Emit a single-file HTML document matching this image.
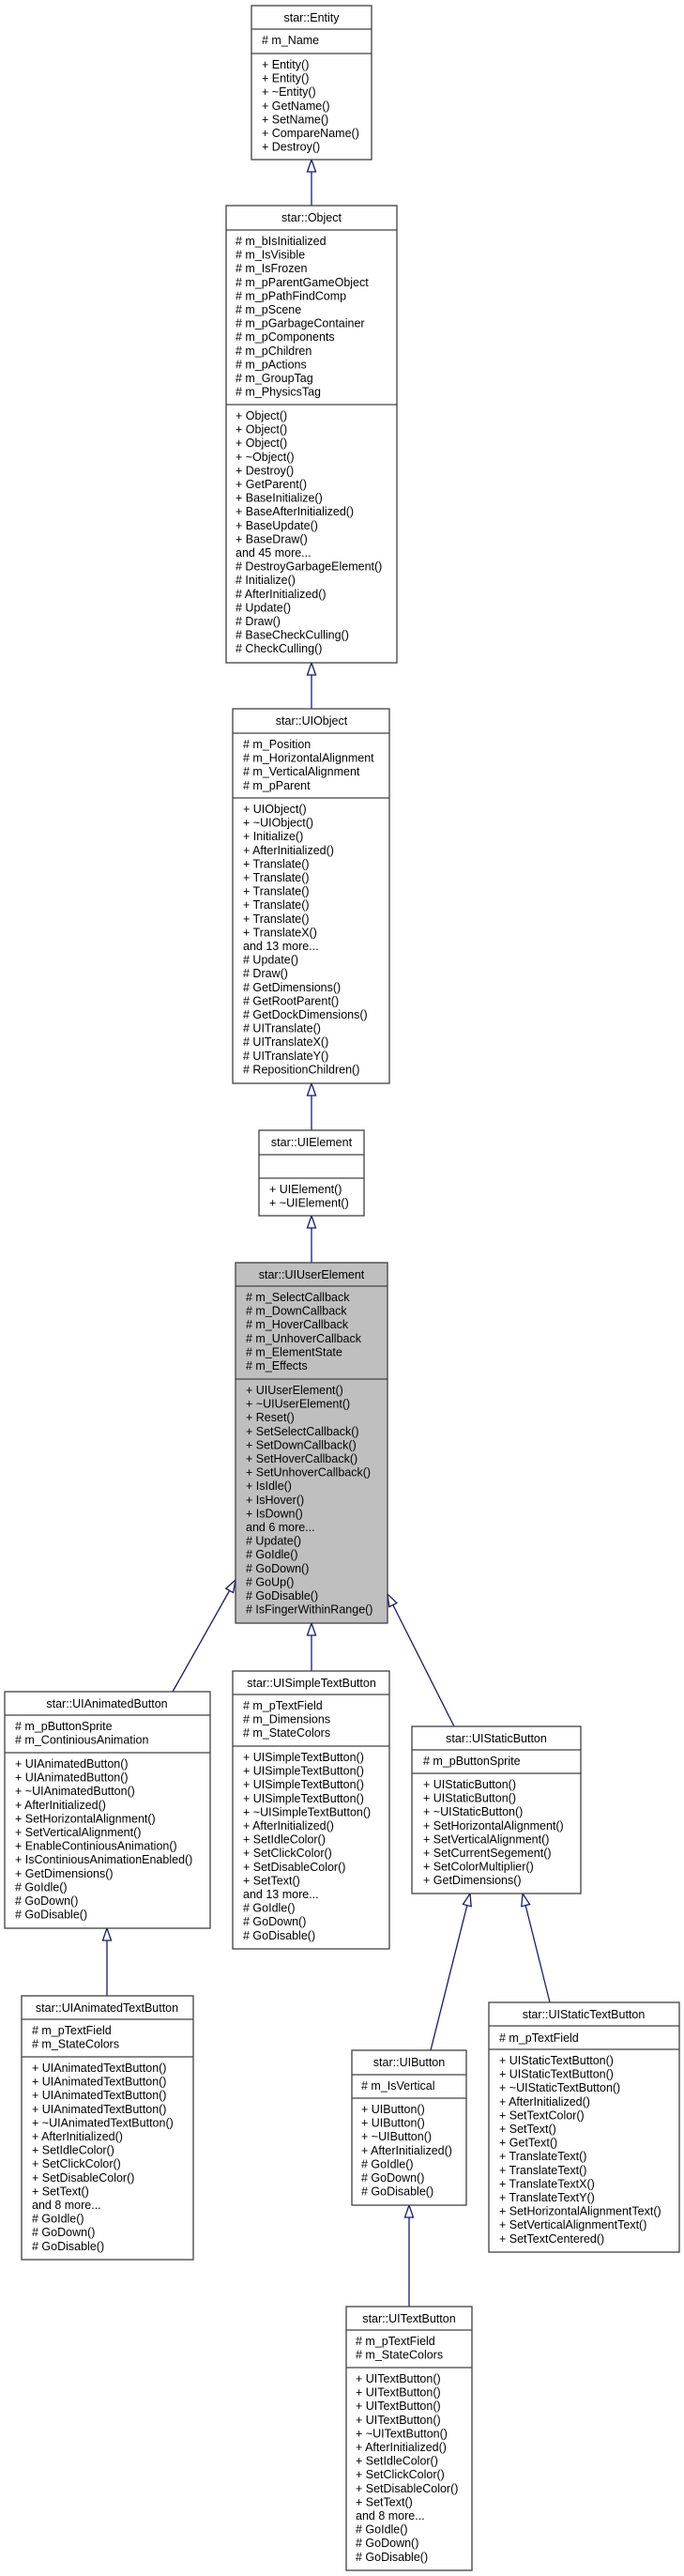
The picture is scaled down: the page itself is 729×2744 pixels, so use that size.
<!DOCTYPE html>
<html><head><meta charset="utf-8">
<style>
html,body{margin:0;padding:0;background:#fff;}
svg{display:block;}
text{font-family:"Liberation Sans",Arial,sans-serif;font-size:12.5px;fill:#000;}
.b{fill:#fff;stroke:#404040;stroke-width:1.3;}
.g{fill:#bfbfbf;stroke:#404040;stroke-width:1.3;}
.s{stroke:#404040;stroke-width:1.3;}
.e{stroke:#191970;stroke-width:1.3;fill:none;}
</style></head><body>
<svg width="729" height="2744" viewBox="0 0 729 2744" xmlns="http://www.w3.org/2000/svg">
<defs>
<marker id="a" viewBox="-1 -1 15 11" refX="13" refY="4.5" markerWidth="15" markerHeight="11" markerUnits="userSpaceOnUse" orient="auto">
<path d="M0,0 L13,4.5 L0,9 z" fill="#fff" stroke="#191970" stroke-width="1.3"/>
</marker>
</defs>

<!-- edges -->
<line class="e" x1="332" y1="219" x2="332" y2="170" marker-end="url(#a)"/>
<line class="e" x1="332" y1="755" x2="332" y2="706" marker-end="url(#a)"/>
<line class="e" x1="332" y1="1204" x2="332" y2="1154" marker-end="url(#a)"/>
<line class="e" x1="332" y1="1345" x2="332" y2="1295" marker-end="url(#a)"/>
<line class="e" x1="332" y1="1780" x2="332" y2="1729" marker-end="url(#a)"/>
<line class="e" x1="184" y1="1802" x2="251" y2="1683" marker-end="url(#a)"/>
<line class="e" x1="484" y1="1839" x2="413" y2="1698" marker-end="url(#a)"/>
<line class="e" x1="114" y1="2126" x2="114" y2="2054" marker-end="url(#a)"/>
<line class="e" x1="459" y1="2184" x2="501" y2="2017" marker-end="url(#a)"/>
<line class="e" x1="586" y1="2133" x2="557" y2="2017" marker-end="url(#a)"/>
<line class="e" x1="436" y1="2457" x2="436" y2="2349" marker-end="url(#a)"/>

<!-- Entity -->
<rect class="b" x="268" y="6" width="128" height="164"/>
<line class="s" x1="268" y1="31" x2="396" y2="31"/><line class="s" x1="268" y1="57" x2="396" y2="57"/>
<text x="332" y="23" text-anchor="middle">star::Entity</text>
<text x="279" y="47">#&#160;m_Name</text>
<text x="279" y="73"><tspan x="279">+ Entity()</tspan><tspan x="279" dy="14.6">+ Entity()</tspan><tspan x="279" dy="14.6">+ ~Entity()</tspan><tspan x="279" dy="14.6">+ GetName()</tspan><tspan x="279" dy="14.6">+ SetName()</tspan><tspan x="279" dy="14.6">+ CompareName()</tspan><tspan x="279" dy="14.6">+ Destroy()</tspan></text>

<!-- Object -->
<rect class="b" x="241" y="219" width="182" height="487"/>
<line class="s" x1="241" y1="245" x2="423" y2="245"/><line class="s" x1="241" y1="431" x2="423" y2="431"/>
<text x="332" y="236" text-anchor="middle">star::Object</text>
<text x="251" y="261"><tspan x="251"># m_bIsInitialized</tspan><tspan x="251" dy="14.6"># m_IsVisible</tspan><tspan x="251" dy="14.6"># m_IsFrozen</tspan><tspan x="251" dy="14.6"># m_pParentGameObject</tspan><tspan x="251" dy="14.6"># m_pPathFindComp</tspan><tspan x="251" dy="14.6"># m_pScene</tspan><tspan x="251" dy="14.6"># m_pGarbageContainer</tspan><tspan x="251" dy="14.6"># m_pComponents</tspan><tspan x="251" dy="14.6"># m_pChildren</tspan><tspan x="251" dy="14.6"># m_pActions</tspan><tspan x="251" dy="14.6"># m_GroupTag</tspan><tspan x="251" dy="14.6"># m_PhysicsTag</tspan></text>
<text x="251" y="447"><tspan x="251">+ Object()</tspan><tspan x="251" dy="14.6">+ Object()</tspan><tspan x="251" dy="14.6">+ Object()</tspan><tspan x="251" dy="14.6">+ ~Object()</tspan><tspan x="251" dy="14.6">+ Destroy()</tspan><tspan x="251" dy="14.6">+ GetParent()</tspan><tspan x="251" dy="14.6">+ BaseInitialize()</tspan><tspan x="251" dy="14.6">+ BaseAfterInitialized()</tspan><tspan x="251" dy="14.6">+ BaseUpdate()</tspan><tspan x="251" dy="14.6">+ BaseDraw()</tspan><tspan x="251" dy="14.6">and 45 more...</tspan><tspan x="251" dy="14.6"># DestroyGarbageElement()</tspan><tspan x="251" dy="14.6"># Initialize()</tspan><tspan x="251" dy="14.6"># AfterInitialized()</tspan><tspan x="251" dy="14.6"># Update()</tspan><tspan x="251" dy="14.6"># Draw()</tspan><tspan x="251" dy="14.6"># BaseCheckCulling()</tspan><tspan x="251" dy="14.6"># CheckCulling()</tspan></text>

<!-- UIObject -->
<rect class="b" x="248" y="755" width="167" height="399"/>
<line class="s" x1="248" y1="781" x2="415" y2="781"/><line class="s" x1="248" y1="850" x2="415" y2="850"/>
<text x="332" y="772" text-anchor="middle">star::UIObject</text>
<text x="259" y="797"><tspan x="259"># m_Position</tspan><tspan x="259" dy="14.6"># m_HorizontalAlignment</tspan><tspan x="259" dy="14.6"># m_VerticalAlignment</tspan><tspan x="259" dy="14.6"># m_pParent</tspan></text>
<text x="259" y="866"><tspan x="259">+ UIObject()</tspan><tspan x="259" dy="14.6">+ ~UIObject()</tspan><tspan x="259" dy="14.6">+ Initialize()</tspan><tspan x="259" dy="14.6">+ AfterInitialized()</tspan><tspan x="259" dy="14.6">+ Translate()</tspan><tspan x="259" dy="14.6">+ Translate()</tspan><tspan x="259" dy="14.6">+ Translate()</tspan><tspan x="259" dy="14.6">+ Translate()</tspan><tspan x="259" dy="14.6">+ Translate()</tspan><tspan x="259" dy="14.6">+ TranslateX()</tspan><tspan x="259" dy="14.6">and 13 more...</tspan><tspan x="259" dy="14.6"># Update()</tspan><tspan x="259" dy="14.6"># Draw()</tspan><tspan x="259" dy="14.6"># GetDimensions()</tspan><tspan x="259" dy="14.6"># GetRootParent()</tspan><tspan x="259" dy="14.6"># GetDockDimensions()</tspan><tspan x="259" dy="14.6"># UITranslate()</tspan><tspan x="259" dy="14.6"># UITranslateX()</tspan><tspan x="259" dy="14.6"># UITranslateY()</tspan><tspan x="259" dy="14.6"># RepositionChildren()</tspan></text>

<!-- UIElement -->
<rect class="b" x="276" y="1204" width="112" height="91"/>
<line class="s" x1="276" y1="1230" x2="388" y2="1230"/><line class="s" x1="276" y1="1255" x2="388" y2="1255"/>
<text x="332" y="1221" text-anchor="middle">star::UIElement</text>
<text x="287" y="1271"><tspan x="287">+ UIElement()</tspan><tspan x="287" dy="14.6">+ ~UIElement()</tspan></text>

<!-- UIUserElement -->
<rect class="g" x="251" y="1345" width="162" height="384"/>
<line class="s" x1="251" y1="1370" x2="413" y2="1370"/><line class="s" x1="251" y1="1469" x2="413" y2="1469"/>
<text x="332" y="1362" text-anchor="middle">star::UIUserElement</text>
<text x="262" y="1386"><tspan x="262"># m_SelectCallback</tspan><tspan x="262" dy="14.6"># m_DownCallback</tspan><tspan x="262" dy="14.6"># m_HoverCallback</tspan><tspan x="262" dy="14.6"># m_UnhoverCallback</tspan><tspan x="262" dy="14.6"># m_ElementState</tspan><tspan x="262" dy="14.6"># m_Effects</tspan></text>
<text x="262" y="1485"><tspan x="262">+ UIUserElement()</tspan><tspan x="262" dy="14.6">+ ~UIUserElement()</tspan><tspan x="262" dy="14.6">+ Reset()</tspan><tspan x="262" dy="14.6">+ SetSelectCallback()</tspan><tspan x="262" dy="14.6">+ SetDownCallback()</tspan><tspan x="262" dy="14.6">+ SetHoverCallback()</tspan><tspan x="262" dy="14.6">+ SetUnhoverCallback()</tspan><tspan x="262" dy="14.6">+ IsIdle()</tspan><tspan x="262" dy="14.6">+ IsHover()</tspan><tspan x="262" dy="14.6">+ IsDown()</tspan><tspan x="262" dy="14.6">and 6 more...</tspan><tspan x="262" dy="14.6"># Update()</tspan><tspan x="262" dy="14.6"># GoIdle()</tspan><tspan x="262" dy="14.6"># GoDown()</tspan><tspan x="262" dy="14.6"># GoUp()</tspan><tspan x="262" dy="14.6"># GoDisable()</tspan><tspan x="262" dy="14.6"># IsFingerWithinRange()</tspan></text>

<!-- UIAnimatedButton -->
<rect class="b" x="5" y="1802" width="219" height="252"/>
<line class="s" x1="5" y1="1827" x2="224" y2="1827"/><line class="s" x1="5" y1="1867" x2="224" y2="1867"/>
<text x="114" y="1819" text-anchor="middle">star::UIAnimatedButton</text>
<text x="16" y="1843"><tspan x="16"># m_pButtonSprite</tspan><tspan x="16" dy="14.6"># m_ContiniousAnimation</tspan></text>
<text x="16" y="1883"><tspan x="16">+ UIAnimatedButton()</tspan><tspan x="16" dy="14.6">+ UIAnimatedButton()</tspan><tspan x="16" dy="14.6">+ ~UIAnimatedButton()</tspan><tspan x="16" dy="14.6">+ AfterInitialized()</tspan><tspan x="16" dy="14.6">+ SetHorizontalAlignment()</tspan><tspan x="16" dy="14.6">+ SetVerticalAlignment()</tspan><tspan x="16" dy="14.6">+ EnableContiniousAnimation()</tspan><tspan x="16" dy="14.6">+ IsContiniousAnimationEnabled()</tspan><tspan x="16" dy="14.6">+ GetDimensions()</tspan><tspan x="16" dy="14.6"># GoIdle()</tspan><tspan x="16" dy="14.6"># GoDown()</tspan><tspan x="16" dy="14.6"># GoDisable()</tspan></text>

<!-- UIAnimatedTextButton -->
<rect class="b" x="23" y="2126" width="183" height="281"/>
<line class="s" x1="23" y1="2151" x2="206" y2="2151"/><line class="s" x1="23" y1="2191" x2="206" y2="2191"/>
<text x="114" y="2143" text-anchor="middle">star::UIAnimatedTextButton</text>
<text x="34" y="2167"><tspan x="34"># m_pTextField</tspan><tspan x="34" dy="14.6"># m_StateColors</tspan></text>
<text x="34" y="2207"><tspan x="34">+ UIAnimatedTextButton()</tspan><tspan x="34" dy="14.6">+ UIAnimatedTextButton()</tspan><tspan x="34" dy="14.6">+ UIAnimatedTextButton()</tspan><tspan x="34" dy="14.6">+ UIAnimatedTextButton()</tspan><tspan x="34" dy="14.6">+ ~UIAnimatedTextButton()</tspan><tspan x="34" dy="14.6">+ AfterInitialized()</tspan><tspan x="34" dy="14.6">+ SetIdleColor()</tspan><tspan x="34" dy="14.6">+ SetClickColor()</tspan><tspan x="34" dy="14.6">+ SetDisableColor()</tspan><tspan x="34" dy="14.6">+ SetText()</tspan><tspan x="34" dy="14.6">and 8 more...</tspan><tspan x="34" dy="14.6"># GoIdle()</tspan><tspan x="34" dy="14.6"># GoDown()</tspan><tspan x="34" dy="14.6"># GoDisable()</tspan></text>

<!-- UISimpleTextButton -->
<rect class="b" x="248" y="1780" width="167" height="296"/>
<line class="s" x1="248" y1="1805" x2="415" y2="1805"/><line class="s" x1="248" y1="1860" x2="415" y2="1860"/>
<text x="332" y="1797" text-anchor="middle">star::UISimpleTextButton</text>
<text x="259" y="1821"><tspan x="259"># m_pTextField</tspan><tspan x="259" dy="14.6"># m_Dimensions</tspan><tspan x="259" dy="14.6"># m_StateColors</tspan></text>
<text x="259" y="1876"><tspan x="259">+ UISimpleTextButton()</tspan><tspan x="259" dy="14.6">+ UISimpleTextButton()</tspan><tspan x="259" dy="14.6">+ UISimpleTextButton()</tspan><tspan x="259" dy="14.6">+ UISimpleTextButton()</tspan><tspan x="259" dy="14.6">+ ~UISimpleTextButton()</tspan><tspan x="259" dy="14.6">+ AfterInitialized()</tspan><tspan x="259" dy="14.6">+ SetIdleColor()</tspan><tspan x="259" dy="14.6">+ SetClickColor()</tspan><tspan x="259" dy="14.6">+ SetDisableColor()</tspan><tspan x="259" dy="14.6">+ SetText()</tspan><tspan x="259" dy="14.6">and 13 more...</tspan><tspan x="259" dy="14.6"># GoIdle()</tspan><tspan x="259" dy="14.6"># GoDown()</tspan><tspan x="259" dy="14.6"># GoDisable()</tspan></text>

<!-- UIStaticButton -->
<rect class="b" x="439" y="1839" width="180" height="178"/>
<line class="s" x1="439" y1="1864" x2="619" y2="1864"/><line class="s" x1="439" y1="1889" x2="619" y2="1889"/>
<text x="529" y="1856" text-anchor="middle">star::UIStaticButton</text>
<text x="451" y="1880"># m_pButtonSprite</text>
<text x="451" y="1905"><tspan x="451">+ UIStaticButton()</tspan><tspan x="451" dy="14.6">+ UIStaticButton()</tspan><tspan x="451" dy="14.6">+ ~UIStaticButton()</tspan><tspan x="451" dy="14.6">+ SetHorizontalAlignment()</tspan><tspan x="451" dy="14.6">+ SetVerticalAlignment()</tspan><tspan x="451" dy="14.6">+ SetCurrentSegement()</tspan><tspan x="451" dy="14.6">+ SetColorMultiplier()</tspan><tspan x="451" dy="14.6">+ GetDimensions()</tspan></text>

<!-- UIButton -->
<rect class="b" x="375" y="2184" width="122" height="165"/>
<line class="s" x1="375" y1="2210" x2="497" y2="2210"/><line class="s" x1="375" y1="2235" x2="497" y2="2235"/>
<text x="436" y="2201" text-anchor="middle">star::UIButton</text>
<text x="385" y="2226"># m_IsVertical</text>
<text x="385" y="2251"><tspan x="385">+ UIButton()</tspan><tspan x="385" dy="14.6">+ UIButton()</tspan><tspan x="385" dy="14.6">+ ~UIButton()</tspan><tspan x="385" dy="14.6">+ AfterInitialized()</tspan><tspan x="385" dy="14.6"># GoIdle()</tspan><tspan x="385" dy="14.6"># GoDown()</tspan><tspan x="385" dy="14.6"># GoDisable()</tspan></text>

<!-- UIStaticTextButton -->
<rect class="b" x="521" y="2133" width="203" height="266"/>
<line class="s" x1="521" y1="2158" x2="724" y2="2158"/><line class="s" x1="521" y1="2183" x2="724" y2="2183"/>
<text x="622" y="2150" text-anchor="middle">star::UIStaticTextButton</text>
<text x="532" y="2175"># m_pTextField</text>
<text x="532" y="2199"><tspan x="532">+ UIStaticTextButton()</tspan><tspan x="532" dy="14.6">+ UIStaticTextButton()</tspan><tspan x="532" dy="14.6">+ ~UIStaticTextButton()</tspan><tspan x="532" dy="14.6">+ AfterInitialized()</tspan><tspan x="532" dy="14.6">+ SetTextColor()</tspan><tspan x="532" dy="14.6">+ SetText()</tspan><tspan x="532" dy="14.6">+ GetText()</tspan><tspan x="532" dy="14.6">+ TranslateText()</tspan><tspan x="532" dy="14.6">+ TranslateText()</tspan><tspan x="532" dy="14.6">+ TranslateTextX()</tspan><tspan x="532" dy="14.6">+ TranslateTextY()</tspan><tspan x="532" dy="14.6">+ SetHorizontalAlignmentText()</tspan><tspan x="532" dy="14.6">+ SetVerticalAlignmentText()</tspan><tspan x="532" dy="14.6">+ SetTextCentered()</tspan></text>

<!-- UITextButton -->
<rect class="b" x="369" y="2457" width="134" height="281"/>
<line class="s" x1="369" y1="2482" x2="503" y2="2482"/><line class="s" x1="369" y1="2522" x2="503" y2="2522"/>
<text x="436" y="2474" text-anchor="middle">star::UITextButton</text>
<text x="379" y="2498"><tspan x="379"># m_pTextField</tspan><tspan x="379" dy="14.6"># m_StateColors</tspan></text>
<text x="379" y="2538"><tspan x="379">+ UITextButton()</tspan><tspan x="379" dy="14.6">+ UITextButton()</tspan><tspan x="379" dy="14.6">+ UITextButton()</tspan><tspan x="379" dy="14.6">+ UITextButton()</tspan><tspan x="379" dy="14.6">+ ~UITextButton()</tspan><tspan x="379" dy="14.6">+ AfterInitialized()</tspan><tspan x="379" dy="14.6">+ SetIdleColor()</tspan><tspan x="379" dy="14.6">+ SetClickColor()</tspan><tspan x="379" dy="14.6">+ SetDisableColor()</tspan><tspan x="379" dy="14.6">+ SetText()</tspan><tspan x="379" dy="14.6">and 8 more...</tspan><tspan x="379" dy="14.6"># GoIdle()</tspan><tspan x="379" dy="14.6"># GoDown()</tspan><tspan x="379" dy="14.6"># GoDisable()</tspan></text>
</svg>
</body></html>
